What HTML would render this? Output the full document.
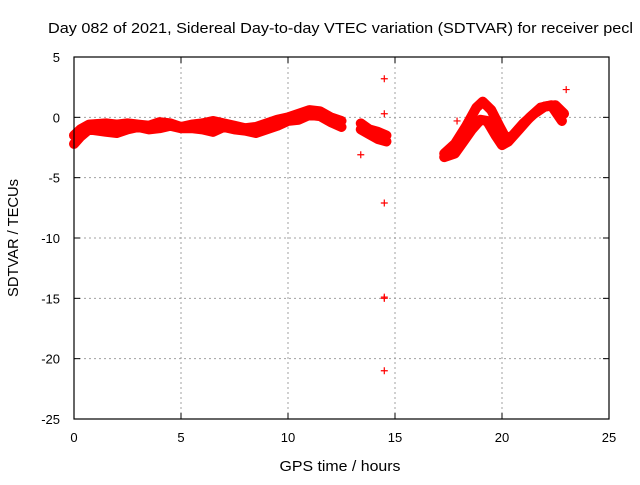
<!DOCTYPE html>
<html><head><meta charset="utf-8"><style>
body{margin:0;background:#fff;}
svg text{font-family:"Liberation Sans",sans-serif;font-size:13px;fill:#000;}
</style></head><body>
<svg id="chart" width="640" height="480" xmlns="http://www.w3.org/2000/svg">
<rect width="640" height="480" fill="#fff"/>
<text x="48" y="33" style="font-size:14.5px" textLength="585" lengthAdjust="spacingAndGlyphs">Day 082 of 2021, Sidereal Day-to-day VTEC variation (SDTVAR) for receiver pecl</text>
<g id="grid"></g>
<g id="ticks"></g>
<g id="series"></g>
<rect x="74" y="57" width="535" height="362" fill="none" stroke="#000" stroke-width="1.2"/>
<text x="340" y="471" text-anchor="middle" style="font-size:14.5px" textLength="121" lengthAdjust="spacingAndGlyphs">GPS time / hours</text>
<text x="18" y="238" text-anchor="middle" style="font-size:14.5px" textLength="118" lengthAdjust="spacingAndGlyphs" transform="rotate(-90 18 238)">SDTVAR / TECUs</text>
</svg>
<script>
const xTicks=[0,5,10,15,20,25];
const yTicks=[5,0,-5,-10,-15,-20,-25];
const morningHours=[0,0.3,0.7,1.5,2,2.5,3,3.5,4,4.5,5,5.5,6,6.5,7,7.5,8,8.5,9,9.5,10,10.5,11,11.5,12,12.5];
const morningUpper=[-1.5,-1.0,-0.6,-0.5,-0.6,-0.5,-0.6,-0.7,-0.4,-0.5,-0.8,-0.6,-0.5,-0.3,-0.5,-0.7,-0.9,-0.8,-0.5,-0.2,0.0,0.3,0.6,0.5,0.0,-0.3];
const morningLower=[-2.2,-1.6,-1.0,-1.2,-1.3,-1.0,-0.8,-1.0,-0.9,-0.7,-0.9,-0.9,-1.0,-1.2,-0.8,-1.0,-1.1,-1.3,-1.0,-0.7,-0.3,-0.2,0.2,0.1,-0.4,-0.8];
const midHours=[13.4,13.8,14.2,14.6];
const midUpper=[-0.5,-1.0,-1.2,-1.5];
const midLower=[-1.0,-1.4,-1.8,-2.0];
const eveHours=[17.3,17.8,18.3,18.8,19.1,19.5,19.9,20.2,20.5,21,21.5,22,22.5,22.9];
const eveUpper=[-3.0,-2.2,-0.8,0.8,1.3,0.6,-0.8,-1.8,-1.5,-0.5,0.3,0.9,1.0,0.3];
const eveLowerHours=[17.3,17.8,18.2,18.6,19,19.3,19.7,20.0,20.3,20.8,21.3,21.8,22.3,22.8];
const eveLower=[-3.3,-3.0,-2.0,-1.0,-0.2,-0.3,-1.5,-2.3,-2.0,-1.0,0.0,0.8,1.0,-0.3];
const outlierHours=[14.5,14.5,13.4,14.5,14.5,14.5,14.5,23.0,17.9];
const outlierValues=[3.2,0.3,-3.1,-7.1,-14.9,-15.0,-21.0,2.3,-0.3];

const NS="http://www.w3.org/2000/svg";
const X0=74,X1=609,Y0=57,Y1=419;
const sx=h=>X0+(h-0)/(25-0)*(X1-X0);
const sy=v=>Y0+(5-v)/(5-(-25))*(Y1-Y0);
function mk(tag,attrs,parent){const e=document.createElementNS(NS,tag);for(const k in attrs)e.setAttribute(k,attrs[k]);parent.appendChild(e);return e;}
const grid=document.getElementById('grid'),ticks=document.getElementById('ticks'),ser=document.getElementById('series');
xTicks.forEach(t=>{
  const x=sx(t);
  if(t>0&&t<25){const g=mk('line',{x1:x,y1:Y0,x2:x,y2:Y1,stroke:'#a0a0a0','stroke-dasharray':'2,3'},grid);
  
  }
  mk('line',{x1:x,y1:Y1,x2:x,y2:Y1-6,stroke:'#000'},ticks);
  mk('line',{x1:x,y1:Y0,x2:x,y2:Y0+6,stroke:'#000'},ticks);
  const l=mk('text',{x:x,y:Y1+23,'text-anchor':'middle'},ticks);l.textContent=t;
  
  
});
yTicks.forEach(t=>{
  const y=sy(t);
  if(t<5&&t>-25){const g=mk('line',{x1:X0,y1:y,x2:X1,y2:y,stroke:'#a0a0a0','stroke-dasharray':'2,3'},grid);
  
  }
  mk('line',{x1:X0,y1:y,x2:X0+6,y2:y,stroke:'#000'},ticks);
  mk('line',{x1:X1,y1:y,x2:X1-6,y2:y,stroke:'#000'},ticks);
  const l=mk('text',{x:X0-14,y:y+5,'text-anchor':'end'},ticks);l.textContent=t;
  
  
});
function band(hs,vs,name){
  const p=mk('polyline',{points:hs.map((h,i)=>sx(h)+','+sy(vs[i])).join(' '),fill:'none',stroke:'#f00','stroke-width':10,'stroke-linejoin':'round','stroke-linecap':'round'},ser);
  
  
}
band(morningHours,morningUpper,'morning-upper-band');
band(morningHours,morningLower,'morning-lower-band');
band(midHours,midUpper,'midday-upper-band');
band(midHours,midLower,'midday-lower-band');
band(eveHours,eveUpper,'evening-upper-band');
band(eveLowerHours,eveLower,'evening-lower-band');
outlierHours.forEach((h,i)=>{
  const x=sx(h),y=sy(outlierValues[i]);
  const p=mk('path',{d:`M${x-3.5},${y}H${x+3.5}M${x},${y-3.5}V${y+3.5}`,stroke:'#f00','stroke-width':1.2},ser);
  
  
});
</script>
</body></html>
